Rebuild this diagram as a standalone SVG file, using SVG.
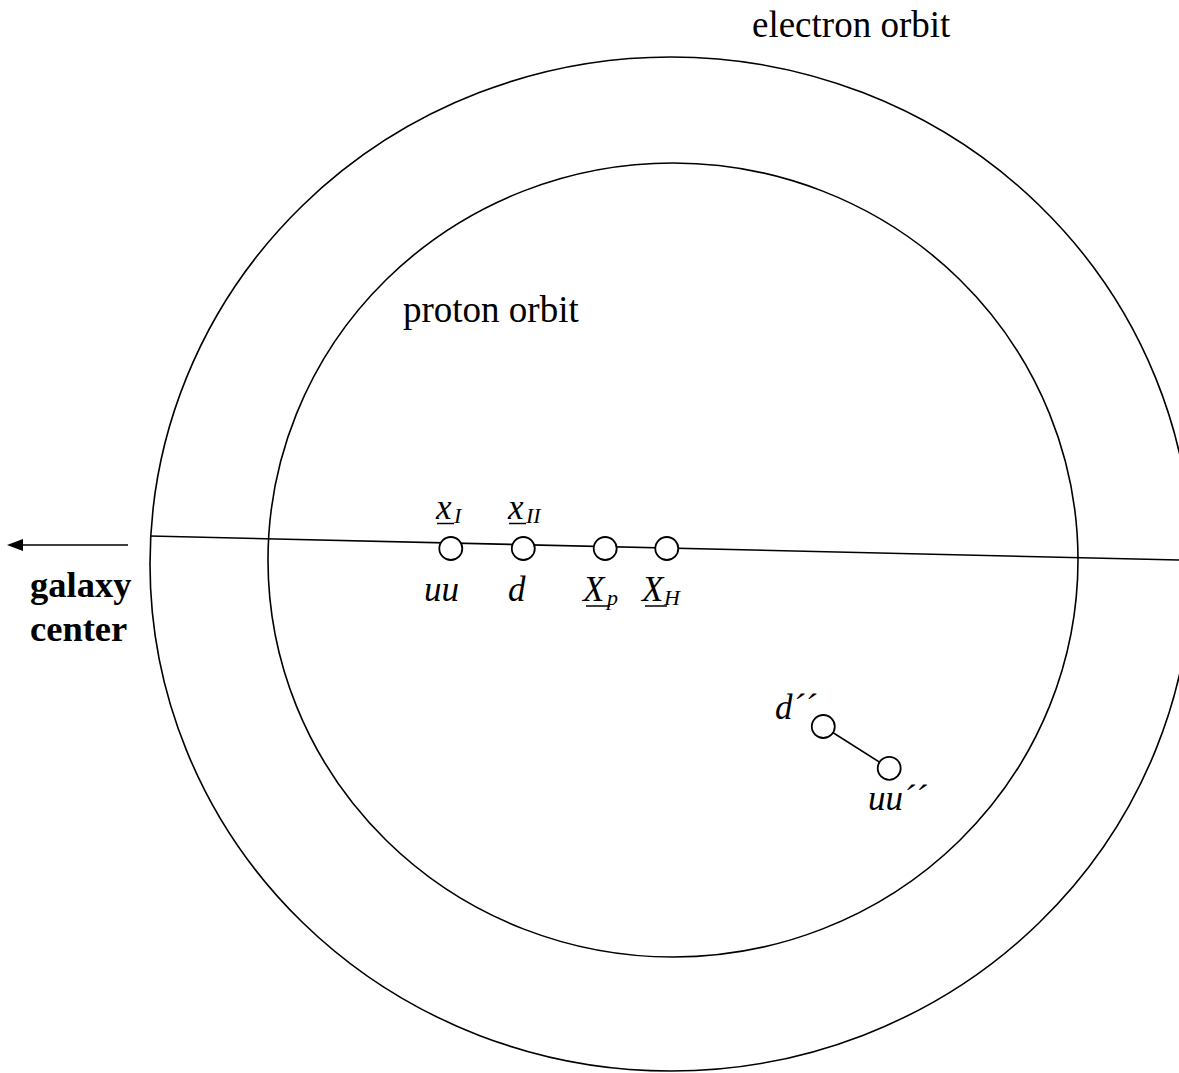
<svg xmlns="http://www.w3.org/2000/svg" width="1179" height="1073" viewBox="0 0 1179 1073">
<style>
.orbit{fill:none;stroke:#000;stroke-width:1.6}
.ln{stroke:#000;stroke-width:1.6;fill:none}
.q{fill:#fff;stroke:#000;stroke-width:1.8}
.t{font-family:"Liberation Serif","Times New Roman",serif;fill:#000}
.lab{font-size:37px}
.it{font-style:italic;font-size:35px}
.sub{font-style:italic;font-size:22px}
.b{font-weight:bold;font-size:36.5px}
.ul{stroke:#000;stroke-width:1.5}
</style>
<rect width="1179" height="1073" fill="#fff"/>
<g id="electron-orbit">
<ellipse class="orbit" cx="671" cy="564" rx="521" ry="507"/>
<text class="t lab" x="752" y="37">electron orbit</text>
</g>
<g id="proton-orbit">
<ellipse class="orbit" cx="673" cy="560" rx="405" ry="397"/>
<text class="t lab" x="403" y="322">proton orbit</text>
</g>
<g id="connectors">
<line class="ln" x1="150" y1="536" x2="1179" y2="560"/>
<line class="ln" x1="823.3" y1="726.5" x2="889.2" y2="768.3"/>
<line class="ln" x1="128" y1="545" x2="20" y2="545"/>
<polygon points="7,545 23,539 23,551" fill="#000"/>
</g>
<g id="galaxy-center">
<text class="t b" x="30" y="597">galaxy</text>
<text class="t b" x="30" y="641">center</text>
</g>
<g id="node-uu">
<circle class="q" cx="450.8" cy="548.5" r="11.5"/>
<text class="t it" x="436" y="519">x</text>
<line class="ul" x1="437" y1="523.5" x2="454" y2="523.5"/>
<text class="t sub" x="454" y="523">I</text>
<text class="t it" x="424" y="601">uu</text>
</g>
<g id="node-d">
<circle class="q" cx="523.3" cy="548.5" r="11.5"/>
<text class="t it" x="508" y="519">x</text>
<line class="ul" x1="509" y1="523.5" x2="526" y2="523.5"/>
<text class="t sub" x="526" y="523">II</text>
<text class="t it" x="508" y="601">d</text>
</g>
<g id="node-Xp">
<circle class="q" cx="605.2" cy="548.5" r="11.5"/>
<text class="t it" x="583" y="601">X</text>
<line class="ul" x1="586" y1="606" x2="610" y2="606"/>
<text class="t sub" x="607" y="605">p</text>
</g>
<g id="node-XH">
<circle class="q" cx="666.8" cy="548.5" r="11.5"/>
<text class="t it" x="642" y="601">X</text>
<line class="ul" x1="645" y1="606" x2="667" y2="606"/>
<text class="t sub" x="664" y="605">H</text>
</g>
<g id="node-d2">
<circle class="q" cx="823.3" cy="726.5" r="11.5"/>
<text class="t it" x="775" y="719">d´´</text>
</g>
<g id="node-uu2">
<circle class="q" cx="889.2" cy="768.3" r="11.5"/>
<text class="t it" x="868" y="810">uu´´</text>
</g>
</svg>
